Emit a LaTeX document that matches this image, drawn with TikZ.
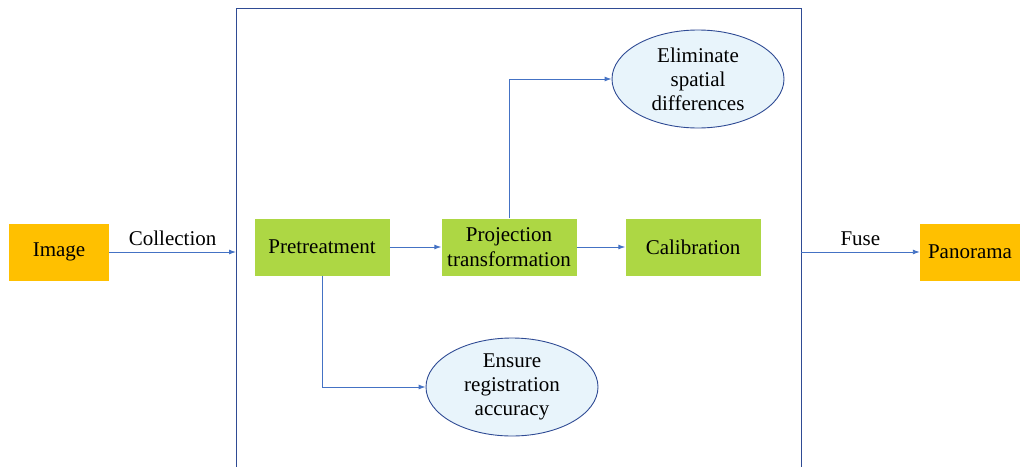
\documentclass[tikz,border=0pt]{standalone}
\usepackage{fontspec}
\setmainfont{Liberation Serif}
\usetikzlibrary{arrows.meta,shapes.geometric}
\definecolor{gold}{HTML}{FFC000}
\definecolor{leaf}{HTML}{ADD744}
\definecolor{sky}{HTML}{E8F4FB}
\definecolor{rim}{HTML}{2F4B94}
\definecolor{wire}{HTML}{4472C4}
\tikzset{
  endbox/.style={fill=gold, minimum width=100pt, minimum height=57pt, inner sep=0pt, font=\fontsize{21}{24}\selectfont},
  stepbox/.style={fill=leaf, minimum width=135pt, minimum height=57pt, inner sep=0pt, align=center, font=\fontsize{21}{25}\selectfont},
  goal/.style={ellipse, draw=rim, fill=sky, line width=0.9pt, minimum width=172pt, minimum height=98pt, inner sep=0pt, align=center, font=\fontsize{21}{24}\selectfont},
  link/.style={draw=wire, line width=0.9pt, -{Latex[length=7pt,width=5pt]}},
  tag/.style={font=\fontsize{21}{24}\selectfont, above, yshift=3pt}
}
\begin{document}
\begin{tikzpicture}[x=1pt,y=-1pt]
  \useasboundingbox (0,0) rectangle (1020,466);
  % outer frame, open at the bottom
  \draw[rim, line width=1pt] (236,470) -- (236,8) -- (801,8) -- (801,470);
  \coordinate (fin) at (236,252);
  \coordinate (fout) at (801,252);

  \node[endbox] (img) at (59,252) {Image};
  \node[endbox] (pano) at (970,252) {Panorama};

  \node[stepbox] (pre) at (322,247) {Pretreatment};
  \node[stepbox] (proj) at (509,247) {Projection\\transformation};
  \node[stepbox] (cal) at (693,247) {Calibration};

  \node[goal] (elim) at (698,79) {Eliminate\\spatial\\differences};
  \node[goal] (ens) at (512,387) {Ensure\\registration\\accuracy};

  \draw[link] (img) -- node[tag] {Collection} (fin);
  \draw[link] (fout) -- node[tag] {Fuse} (pano);
  \draw[link] (pre) -- (proj);
  \draw[link] (proj) -- (cal);
  \draw[link] (proj.north) |- (elim.west);
  \draw[link] (pre.south) |- (ens.west);
\end{tikzpicture}
\end{document}
